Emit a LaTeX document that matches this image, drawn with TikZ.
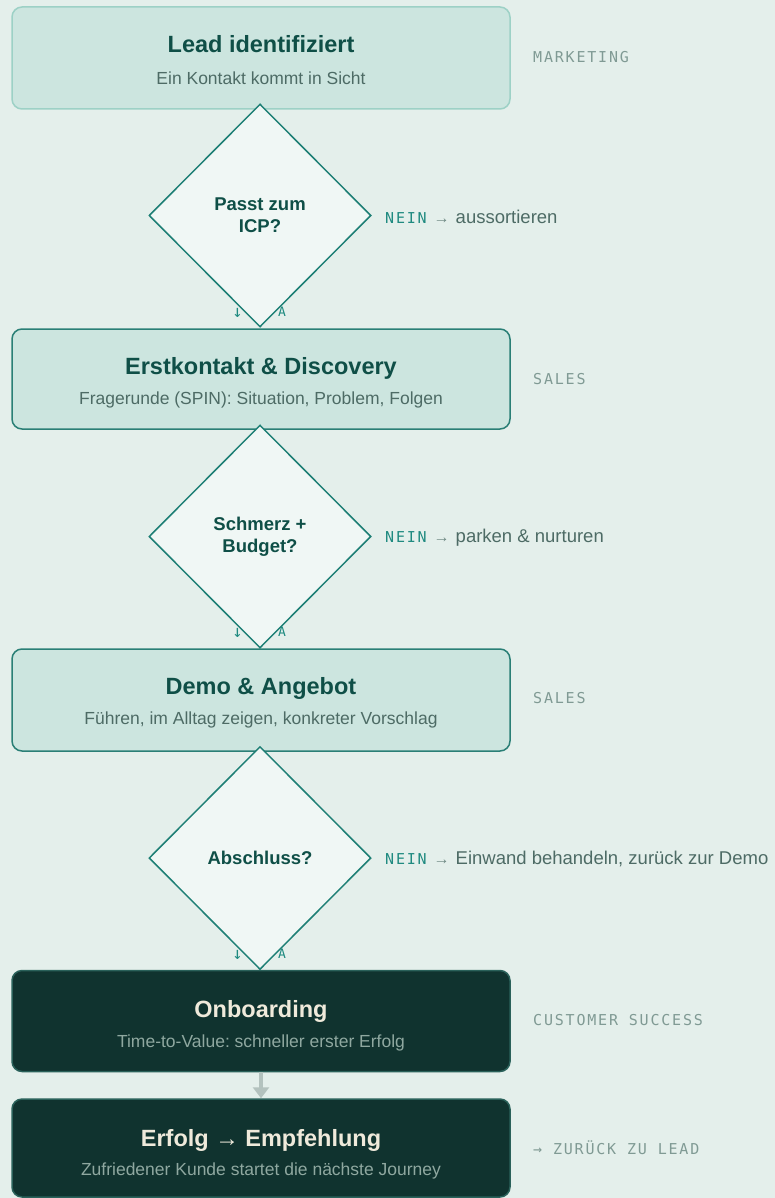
\documentclass[tikz,border=0pt]{standalone}
\usepackage{fontspec}
\setmainfont{Liberation Sans}
\newfontfamily\monof[LetterSpace=12]{DejaVu Sans Mono}
\newfontfamily\monoplain{DejaVu Sans Mono}
\usetikzlibrary{shapes.geometric,arrows.meta}
\definecolor{bgc}{HTML}{E4EFEB}
\definecolor{boxfill}{HTML}{CCE5DF}
\definecolor{lightline}{HTML}{9DD1C6}
\definecolor{tealline}{HTML}{2A7F76}
\definecolor{titlec}{HTML}{0F4F47}
\definecolor{subc}{HTML}{4D6B65}
\definecolor{diafill}{HTML}{F0F7F5}
\definecolor{dialine}{HTML}{1E7F75}
\definecolor{neinc}{HTML}{1F8A80}
\definecolor{rlabc}{HTML}{809A94}
\definecolor{darkfill}{HTML}{10332F}
\definecolor{darkline}{HTML}{2A615A}
\definecolor{creamc}{HTML}{EFEADB}
\definecolor{darksub}{HTML}{8FA8A0}
\definecolor{arrowc}{HTML}{B3C2BE}
\definecolor{smallarrow}{HTML}{6F8A84}
\newcommand\neinlab[1]{{\monof\fontsize{15}{15}\selectfont\color{neinc}NEIN}\hspace{7pt}{\fontsize{16}{16}\selectfont\color{smallarrow}→}\hspace{6pt}#1}
\frenchspacing
\begin{document}
\frenchspacing
\begin{tikzpicture}[x=1pt,y=-1pt,
  stagebox/.style={draw=tealline, fill=boxfill, rounded corners=10pt, line width=1.5pt, minimum width=498pt, inner sep=0pt},
  darkbox/.style={draw=darkline, fill=darkfill, rounded corners=10pt, line width=1.5pt, minimum width=498pt, inner sep=0pt},
  ttl/.style={anchor=base, inner sep=0pt, font=\fontsize{23.5}{28}\selectfont\bfseries, text=titlec},
  sub/.style={anchor=base, inner sep=0pt, font=\fontsize{17.5}{21}\selectfont\frenchspacing, text=subc},
  dttl/.style={ttl, text=creamc},
  dsub/.style={sub, text=darksub},
  decision/.style={diamond, draw=dialine, fill=diafill, line width=1.5pt, minimum width=222pt, minimum height=223pt, inner sep=0pt, align=center, font=\fontsize{18.5}{22}\selectfont\bfseries, text=titlec},
  jaarrow/.style={anchor=base, inner sep=0pt, font=\monoplain\fontsize{17}{17}\selectfont, text=neinc},
  jalab/.style={anchor=base, inner sep=0pt, font=\monoplain\fontsize{13}{13}\selectfont, text=neinc},
  neinlabel/.style={anchor=base west, inner sep=0pt, font=\fontsize{18.5}{22}\selectfont, text=subc},
  rlab/.style={anchor=base west, inner sep=0pt, font=\monof\fontsize{15}{15}\selectfont, text=rlabc}
]
\fill[bgc] (0,0) rectangle (775,1198);
\useasboundingbox (0,0) rectangle (775,1198);

% stage boxes
\node[stagebox, draw=lightline, minimum height=102pt] (b1) at (261,58) {};
\node[stagebox, minimum height=100pt] (b2) at (261,379) {};
\node[stagebox, minimum height=102pt] (b3) at (261,700) {};
\node[darkbox, minimum height=101pt] (b4) at (261,1021) {};
\node[darkbox, minimum height=98pt] (b5) at (261,1148) {};

\node[ttl] (t1) at (261,52.5) {Lead identifiziert};
\node[sub] (s1) at (261,85) {Ein Kontakt kommt in Sicht};
\node[ttl] (t2) at (261,374.5) {Erstkontakt \& Discovery};
\node[sub] (s2) at (261,404) {Fragerunde (SPIN): Situation, Problem, Folgen};
\node[ttl] (t3) at (261,694.5) {Demo \& Angebot};
\node[sub] (s3) at (261,724) {Führen, im Alltag zeigen, konkreter Vorschlag};
\node[dttl] (t4) at (261,1017.5) {Onboarding};
\node[dsub] (s4) at (261,1047) {Time-to-Value: schneller erster Erfolg};
\node[dttl] (t5) at (261,1146.5) {Erfolg → Empfehlung};
\node[dsub] (s5) at (261,1175) {Zufriedener Kunde startet die nächste Journey};

% JA labels (behind diamonds)
\node[jaarrow] (ja1a) at (237.5,317) {↓};
\node[jalab] (ja1j) at (266,316) {J};
\node[jalab] (ja1b) at (282,316) {A};
\node[jaarrow] (ja2a) at (237.5,637) {↓};
\node[jalab] (ja2j) at (266,636) {J};
\node[jalab] (ja2b) at (282,636) {A};
\node[jaarrow] (ja3a) at (237.5,959) {↓};
\node[jalab] (ja3j) at (266,958) {J};
\node[jalab] (ja3b) at (282,958) {A};

% decisions
\node[decision] (d1) at (260,215.5) {Passt zum\\ICP?};
\node[decision] (d2) at (260,536.5) {Schmerz +\\Budget?};
\node[decision] (d3) at (260,858) {Abschluss?};

% NEIN labels
\node[neinlabel] (n1) at (385,223.3) {\neinlab{aussortieren}};
\node[neinlabel] (n2) at (385,542.5) {\neinlab{parken \& nurturen}};
\node[neinlabel] (n3) at (385,864.5) {\neinlab{Einwand behandeln, zurück zur Demo}};

% arrow
\draw[arrowc, line width=4pt, -{Triangle[width=16pt,length=11pt]}] (b4.south) -- (b5.north);

% right labels
\node[rlab] (r1) at (533,62.7) {MARKETING};
\node[rlab] (r2) at (533,384.7) {SALES};
\node[rlab] (r3) at (533,703.5) {SALES};
\node[rlab] (r4) at (533,1025.5) {CUSTOMER SUCCESS};
\node[rlab] (r5) at (533,1154.5) {→ ZURÜCK ZU LEAD};
\end{tikzpicture}
\end{document}
